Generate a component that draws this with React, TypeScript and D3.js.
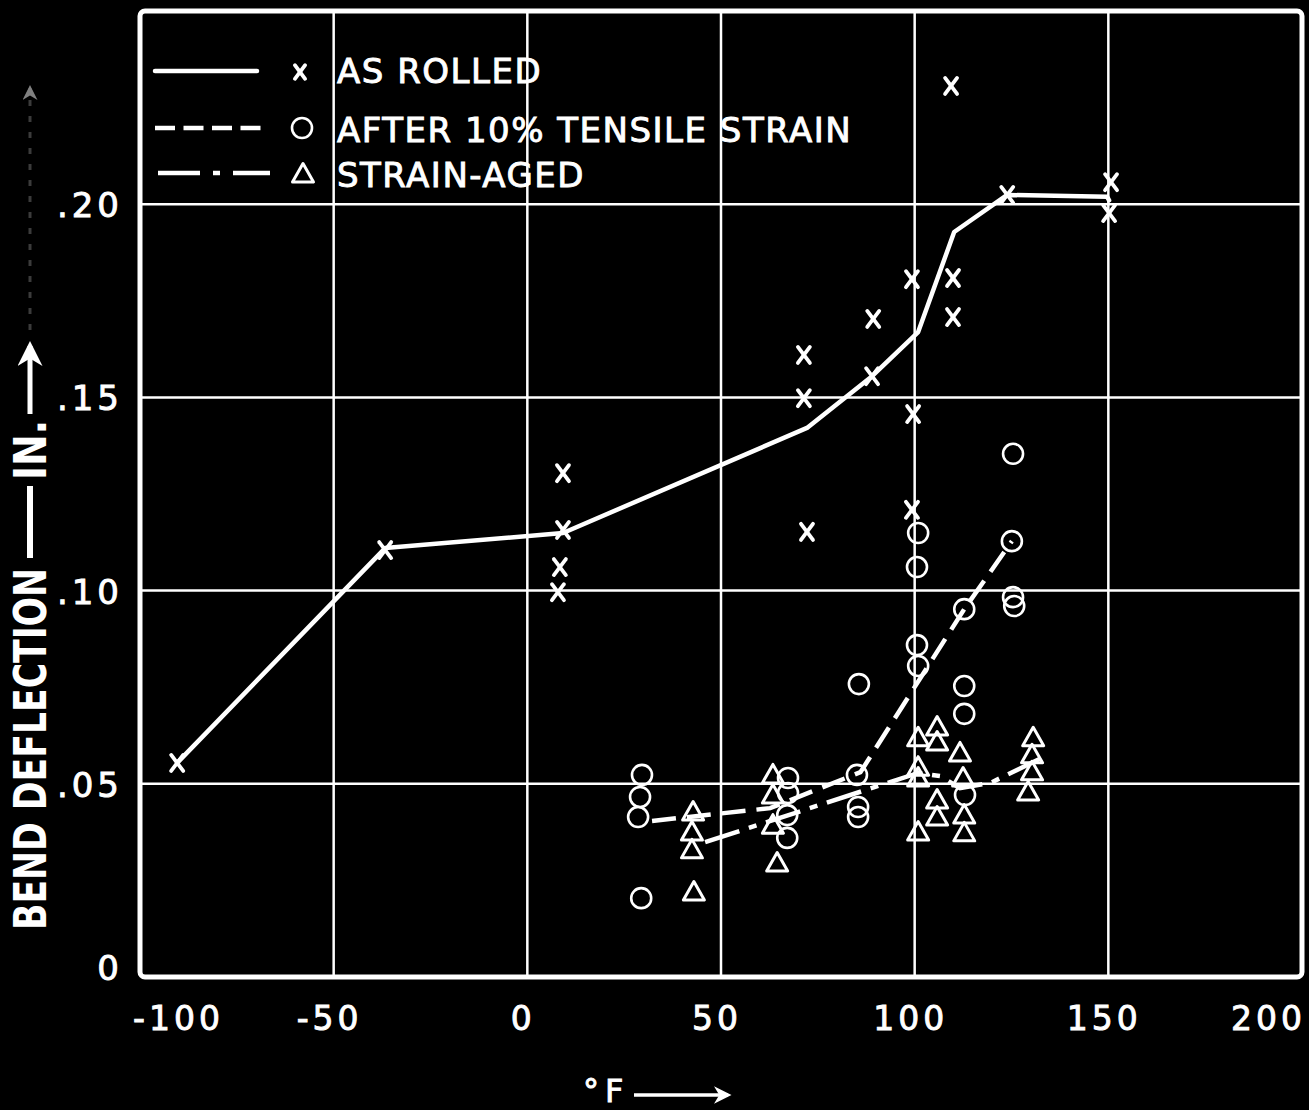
import React from 'react';
import * as d3 from 'd3';

// ---------- data ----------
const xTicks = [-100, -50, 0, 50, 100, 150, 200];
const xTickLabels = ['-100', '-50', '0', '50', '100', '150', '200'];
const yTicks = [0, 0.05, 0.1, 0.15, 0.2];
const yTickLabels = ['0', '.05', '.10', '.15', '.20'];

const legendLabels = ['AS ROLLED', 'AFTER 10% TENSILE STRAIN', 'STRAIN-AGED'];

// As rolled (x markers)
const rolledTemp = [-90.4, -36.7, 9.2, 9.2, 8.4, 7.9, 71.4, 71.4, 72.2, 89.3, 89.0, 99.3, 99.6, 99.3, 109.4, 109.9, 109.9, 123.9, 150.7, 150.2];
const rolledDefl = [0.0554, 0.1105, 0.1304, 0.1157, 0.1061, 0.0996, 0.161, 0.1498, 0.1152, 0.1703, 0.1555, 0.1806, 0.1457, 0.1209, 0.2306, 0.1809, 0.1708, 0.2024, 0.2057, 0.1977];
const rolledCurveTemp = [-90.4, -36.7, 9.2, 72.2, 89.0, 100.9, 110.2, 123.9, 149.7, 150.2];
const rolledCurveDefl = [0.0554, 0.111, 0.1149, 0.1421, 0.1555, 0.1669, 0.1928, 0.2024, 0.2019, 0.201];

// After 10% tensile strain (circles)
const strainTemp = [29.6, 29.1, 28.6, 29.4, 125.4, 100.9, 100.6, 125.1, 125.4, 125.7, 112.8, 100.6, 100.9, 85.6, 112.8, 112.8, 85.1, 67.3, 67.3, 67.1, 67.1, 85.4, 85.4, 113.0];
const strainDefl = [0.0523, 0.0466, 0.0414, 0.0204, 0.1354, 0.1149, 0.1061, 0.1128, 0.0983, 0.096, 0.0952, 0.0859, 0.0805, 0.0758, 0.0753, 0.0681, 0.0523, 0.0515, 0.0476, 0.0419, 0.036, 0.044, 0.0414, 0.0471];
const strainCurveTemp = [32.2, 62.7, 86.0, 112.8, 125.1];
const strainCurveDefl = [0.0404, 0.0437, 0.053, 0.0952, 0.1128];

// Strain-aged (triangles)
const agedTemp = [42.8, 42.5, 42.5, 43.0, 63.4, 63.4, 63.4, 64.5, 100.9, 100.9, 100.9, 100.9, 105.8, 105.8, 105.8, 105.8, 111.7, 112.5, 112.8, 112.8, 130.6, 130.3, 130.3, 129.3];
const agedDefl = [0.0427, 0.0375, 0.0329, 0.022, 0.0523, 0.0471, 0.0393, 0.0295, 0.0619, 0.0543, 0.0515, 0.0375, 0.0647, 0.0608, 0.0458, 0.0414, 0.058, 0.0515, 0.0419, 0.0373, 0.0619, 0.0575, 0.0531, 0.0479];
const agedCurveTemp = [45.9, 100.9, 106.6, 111.7, 119.5, 133.2];
const agedCurveDefl = [0.0349, 0.0528, 0.052, 0.0489, 0.0502, 0.0569];

// ---------- layout ----------
const W = 1309;
const H = 1110;
const left = 140, right = 1302, top = 11, bottom = 977;
const FONT = '"DejaVu Sans", "Liberation Sans", sans-serif';
const WHITE = '#ffffff';

const x = d3.scaleLinear().domain([-100, 200]).range([left, right]);
const y = d3.scaleLinear().domain([0, 0.25]).range([bottom, top]);

const zip = (a: number[], b: number[]) => a.map((v, i) => [v, b[i]] as [number, number]);
const line = d3.line<[number, number]>().x(d => x(d[0])).y(d => y(d[1]));

const XMark = ({ cx, cy, s = 1 }: { cx: number; cy: number; s?: number }) => (
  <g stroke={WHITE} strokeWidth={3.8} strokeLinecap="round">
    <line x1={cx - 6 * s} y1={cy - 8 * s} x2={cx + 6 * s} y2={cy + 8 * s} />
    <line x1={cx + 6 * s} y1={cy - 8 * s} x2={cx - 6 * s} y2={cy + 8 * s} />
  </g>
);

const Circ = ({ cx, cy }: { cx: number; cy: number }) => (
  <circle cx={cx} cy={cy} r={10} fill="none" stroke={WHITE} strokeWidth={2.6} />
);

const Tri = ({ cx, cy }: { cx: number; cy: number }) => (
  <path
    d={`M${cx},${cy - 10.5} L${cx + 10.5},${cy + 8} L${cx - 10.5},${cy + 8} Z`}
    fill="none"
    stroke={WHITE}
    strokeWidth={3}
    strokeLinejoin="round"
  />
);

const textStroke = { stroke: WHITE, strokeWidth: 0.9 };

export default function App() {
  const rolledPts = zip(rolledTemp, rolledDefl);
  const strainPts = zip(strainTemp, strainDefl);
  const agedPts = zip(agedTemp, agedDefl);

  return (
    <div style={{ position: 'fixed', left: 0, top: 0, width: W, height: H, background: '#000', overflow: 'hidden' }}>
      <svg width={W} height={H} style={{ display: 'block', background: '#000' }}>
        <defs>
          <marker id="ah" viewBox="0 0 10 10" refX="8" refY="5" markerWidth="5" markerHeight="5" orient="auto">
            <path d="M0,0 L10,5 L0,10 L3,5 Z" fill={WHITE} />
          </marker>
        </defs>

        {/* grid */}
        {xTicks.slice(1, -1).map(t => (
          <line key={'gx' + t} x1={x(t)} x2={x(t)} y1={top} y2={bottom} stroke={WHITE} strokeWidth={2.5} />
        ))}
        {yTicks.slice(1).map(t => (
          <line key={'gy' + t} x1={left} x2={right} y1={y(t)} y2={y(t)} stroke={WHITE} strokeWidth={2.5} />
        ))}
        {/* frame */}
        <rect x={left} y={top} width={right - left} height={bottom - top} rx={5} fill="none" stroke={WHITE} strokeWidth={5} />

        {/* x tick labels */}
        {xTicks.map((t, i) => {
          const isFirst = i === 0;
          const isLast = i === xTicks.length - 1;
          return (
            <text
              key={'xl' + t}
              x={isFirst ? x(t) - 7 : isLast ? x(t) + 4 : x(t) - 4}
              y={1030}
              textAnchor={isFirst ? 'start' : isLast ? 'end' : 'middle'}
              fontFamily={FONT}
              fontSize={33}
              letterSpacing={4}
              fill={WHITE}
              {...textStroke}
            >
              {xTickLabels[i]}
            </text>
          );
        })}

        {/* y tick labels */}
        {yTicks.map((t, i) => (
          <text
            key={'yl' + t}
            x={123}
            y={t === 0 ? y(t) + 3 : y(t) + 13}
            textAnchor="end"
            fontFamily={FONT}
            fontSize={34}
            letterSpacing={4}
            fill={WHITE}
            {...textStroke}
          >
            {yTickLabels[i]}
          </text>
        ))}

        {/* y axis title */}
        <g transform="translate(46,930) rotate(-90)">
          <text x={0} y={0} fontFamily={FONT} fontWeight="bold" fontSize={45} fill={WHITE} textLength={362} lengthAdjust="spacingAndGlyphs">
            BEND DEFLECTION
          </text>
          <line x1={372} x2={444} y1={-16} y2={-16} stroke={WHITE} strokeWidth={6} />
          <text x={450} y={0} fontFamily={FONT} fontWeight="bold" fontSize={45} fill={WHITE} textLength={60} lengthAdjust="spacingAndGlyphs">
            IN.
          </text>
          <line x1={516} x2={584} y1={-16} y2={-16} stroke={WHITE} strokeWidth={5} markerEnd="url(#ah)" />
          <line x1={600} x2={842} y1={-16} y2={-16} stroke="#777" strokeWidth={3} strokeDasharray="6 10" opacity={0.5} markerEnd="url(#ah)" />
        </g>

        {/* x axis title */}
        <text x={583} y={1102} fontFamily={FONT} fontSize={32} fill={WHITE} letterSpacing={6} {...textStroke}>
          °F
        </text>
        <line x1={634} x2={728} y1={1095} y2={1095} stroke={WHITE} strokeWidth={3.5} markerEnd="url(#ah)" />

        {/* curves */}
        <path d={line(zip(rolledCurveTemp, rolledCurveDefl)) || ''} fill="none" stroke={WHITE} strokeWidth={4.5} strokeLinejoin="round" strokeLinecap="round" />
        <path d={line(zip(strainCurveTemp, strainCurveDefl)) || ''} fill="none" stroke={WHITE} strokeWidth={4.5} strokeDasharray="24 11" />
        <path d={line(zip(agedCurveTemp, agedCurveDefl)) || ''} fill="none" stroke={WHITE} strokeWidth={4.5} strokeDasharray="36 10 8 10" />

        {/* markers */}
        {rolledPts.map((d, i) => <XMark key={'r' + i} cx={x(d[0])} cy={y(d[1])} />)}
        {strainPts.map((d, i) => <Circ key={'s' + i} cx={x(d[0])} cy={y(d[1])} />)}
        {agedPts.map((d, i) => <Tri key={'a' + i} cx={x(d[0])} cy={y(d[1])} />)}

        {/* legend */}
        <line x1={155} x2={257} y1={71} y2={71} stroke={WHITE} strokeWidth={4.5} strokeLinecap="round" />
        <line x1={155} x2={263} y1={128} y2={128} stroke={WHITE} strokeWidth={4.5} strokeDasharray="20 8.5" />
        <line x1={158} x2={270} y1={173} y2={173} stroke={WHITE} strokeWidth={4.5} strokeDasharray="42 13 7 13" />
        <XMark cx={300} cy={72} s={0.85} />
        <Circ cx={302} cy={128} />
        <Tri cx={303} cy={174} />
        {legendLabels.map((lab, i) => (
          <text key={lab} x={337} y={[83, 142, 187][i]} fontFamily={FONT} fontSize={34} letterSpacing={1.5} fill={WHITE} {...textStroke}>
            {lab}
          </text>
        ))}
      </svg>
    </div>
  );
}
